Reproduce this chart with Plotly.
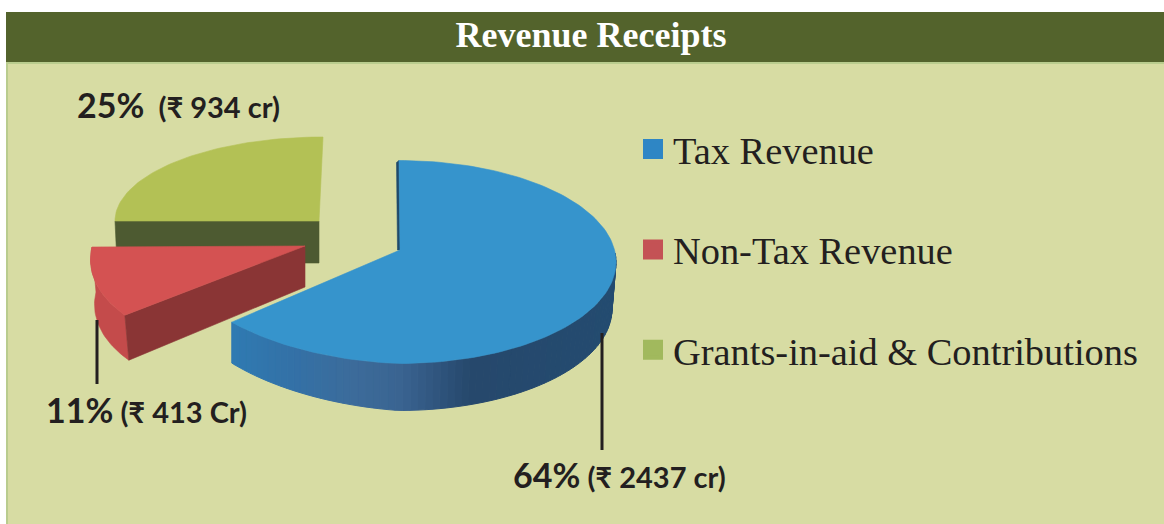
import math
import plotly.graph_objects as go

# Data
categories = ["Tax Revenue", "Non-Tax Revenue", "Grants-in-aid & Contributions"]
percent = [64, 11, 25]
crore_labels = ["₹ 2437 cr", "₹ 413 Cr", "₹ 934 cr"]
title_text = "Revenue Receipts"

# Styles
legend_colors = ["#2e86c5", "#c45255", "#a1b95d"]
top_colors = ["#3694cc", "#d45252", "#b3c155"]
inner_wall = ["#1f4a6b", "#8a3535", "#4d5a31"]
outer_wall = [None, "#c44b4b", "#4d5a31"]

# Projection of each exploded slice: ellipse centre, radii, shear, taper, apex
geo = [
    dict(cx=399, cy=262, rx=217, ry=101.5, shear=0.0, taper=0.07, ax=400, ay=250),
    dict(cx=305, cy=247, rx=213, ry=107, shear=-0.235, taper=0.0, ax=305, ay=246),
    dict(cx=323, cy=221, rx=208, ry=84, shear=0.0, taper=0.0, ax=319, ay=221),
]

# Angles come from the data
edges = [0]
for p in percent:
    edges.append(edges[-1] + p / sum(percent) * 360)


def pt(g, deg):
    t = math.radians(deg)
    dy = -math.cos(t) * g["ry"]
    if deg > 180:
        dy *= 1 - g["taper"] * (deg - 180) / 50
    return g["cx"] + g["rx"] * math.sin(t) + g["shear"] * dy, g["cy"] + dy


def arc(g, a, b, step=1.5):
    n = max(2, int(abs(b - a) / step))
    return [pt(g, a + (b - a) * i / n) for i in range(n + 1)]


def poly(points, color, line=0.6):
    xs = [p[0] for p in points] + [points[0][0]]
    ys = [p[1] for p in points] + [points[0][1]]
    return go.Scatter(x=xs, y=ys, mode="lines", fill="toself", fillcolor=color,
                      line=dict(color=color, width=line), hoverinfo="skip", showlegend=False)


def lerp_color(x):
    stops = [(232, (47, 122, 178)), (300, (52, 112, 165)), (350, (60, 108, 155)),
             (400, (58, 100, 145)), (470, (38, 72, 108)), (620, (35, 75, 112))]
    for (x0, c0), (x1, c1) in zip(stops, stops[1:]):
        if x <= x1:
            f = max(0, (x - x0) / (x1 - x0))
            return "rgb(%d,%d,%d)" % tuple(round(c0[i] + (c1[i] - c0[i]) * f) for i in range(3))
    return "rgb(35,75,112)"


def blue_off(deg):
    t = math.radians(deg)
    dx = -4 * max(math.sin(t), 0)
    dy = 47 if deg < 180 else 47 - 6 * (deg - 180) / 50
    return dx, dy


fig = go.Figure()

# Green slice
g = geo[2]
a, b = edges[2], edges[3]
p0 = pt(g, a)
fig.add_trace(poly([p0, (g["ax"], g["ay"]), (g["ax"], g["ay"] + 42), (p0[0] + 2, p0[1] + 42)], inner_wall[2]))
fig.add_trace(poly([(g["ax"], g["ay"])] + arc(g, a, b), top_colors[2]))

# Red slice
g = geo[1]
a, b = edges[1], edges[2]
o = (4, 45)
pa = pt(g, a)
fig.add_trace(poly(arc(g, a, b) + [(x + o[0], y + o[1]) for x, y in arc(g, b, a)], outer_wall[1]))
fig.add_trace(poly([(g["ax"], g["ay"]), (g["ax"], g["ay"] + 41), (pa[0] + o[0], pa[1] + o[1]), pa], inner_wall[1]))
fig.add_trace(poly([(g["ax"], g["ay"])] + arc(g, a, b), top_colors[1]))

# Blue slice
g = geo[0]
a, b = edges[0], edges[1]
d = a + 85
while d < b:
    e = min(d + 2, b)
    t0, t1 = pt(g, d), pt(g, e)
    o0, o1 = blue_off(d), blue_off(e)
    fig.add_trace(poly([t0, t1, (t1[0] + o1[0], t1[1] + o1[1]), (t0[0] + o0[0], t0[1] + o0[1])],
                       lerp_color((t0[0] + t1[0]) / 2), line=1))
    d = e
ps = pt(g, a)
fig.add_trace(poly([ps, (ps[0] - 2.5, ps[1] + 2), (g["ax"] - 2.5, g["ay"]), (g["ax"], g["ay"])], inner_wall[0]))
fig.add_trace(poly([(g["ax"], g["ay"])] + arc(g, a, b), top_colors[0]))

# Legend entries
for name, col in zip(categories, legend_colors):
    fig.add_trace(go.Scatter(x=[None], y=[None], mode="markers", name=name, legendgroup=name,
                             marker=dict(symbol="square", size=16, color=col, line=dict(color=col, width=4))))

# Labels
big, small = 34, 29
lab = "<span style='font-size:%dpx'>%d%%</span>%s<span style='font-size:%dpx'>(%s)</span>"
positions = [(511, 474, " "), (44, 409, " "), (75, 104, "  ")]
anns = []
for p, c, (x, y, gap) in zip(percent, crore_labels, positions):
    anns.append(dict(x=x, y=y, xref="x", yref="y", xanchor="left", yanchor="middle", showarrow=False,
                     text="<b>" + lab % (big, p, gap, small, c) + "</b>",
                     font=dict(family="Lato, 'Noto Sans', sans-serif", size=small, color="#231f20")))

shapes = [
    dict(type="rect", layer="below", x0=6, x1=1164, y0=12, y1=524, fillcolor="#d7dca3", line_width=0),
    dict(type="rect", layer="below", x0=6, x1=8, y0=62, y1=524, fillcolor="#b9cc8e", line_width=0),
    dict(type="rect", layer="below", x0=6, x1=1164, y0=62, y1=64, fillcolor="#b9cc8e", line_width=0),
    dict(type="rect", layer="below", x0=6, x1=1164, y0=12, y1=62, fillcolor="#53632c", line_width=0),
    dict(type="line", x0=97, x1=97, y0=320, y1=384, line=dict(color="#231f20", width=3)),
    dict(type="line", x0=602, x1=602, y0=333, y1=450, line=dict(color="#231f20", width=3)),
]

fig.update_layout(
    width=1164, height=524, margin=dict(l=0, r=0, t=0, b=0),
    paper_bgcolor="white", plot_bgcolor="rgba(0,0,0,0)",
    xaxis=dict(range=[0, 1164], visible=False, fixedrange=True),
    yaxis=dict(range=[524, 0], visible=False, fixedrange=True),
    title=dict(text="<b>" + title_text + "</b>", x=591 / 1164, xanchor="center", y=1 - 34 / 524, yanchor="middle",
               font=dict(family="Liberation Serif, serif", size=36, color="white")),
    legend=dict(x=633 / 1164, xanchor="left", y=1 - 117.5 / 524, yanchor="top", bgcolor="rgba(0,0,0,0)",
                tracegroupgap=47.5, itemclick=False, itemdoubleclick=False,
                font=dict(family="Liberation Serif, serif", size=38.4, color="#231f20")),
    shapes=shapes, annotations=anns,
)
fig.write_html("out.html", config={"displayModeBar": False},
               post_script="document.body.style.margin='0';document.body.style.overflow='hidden';")
